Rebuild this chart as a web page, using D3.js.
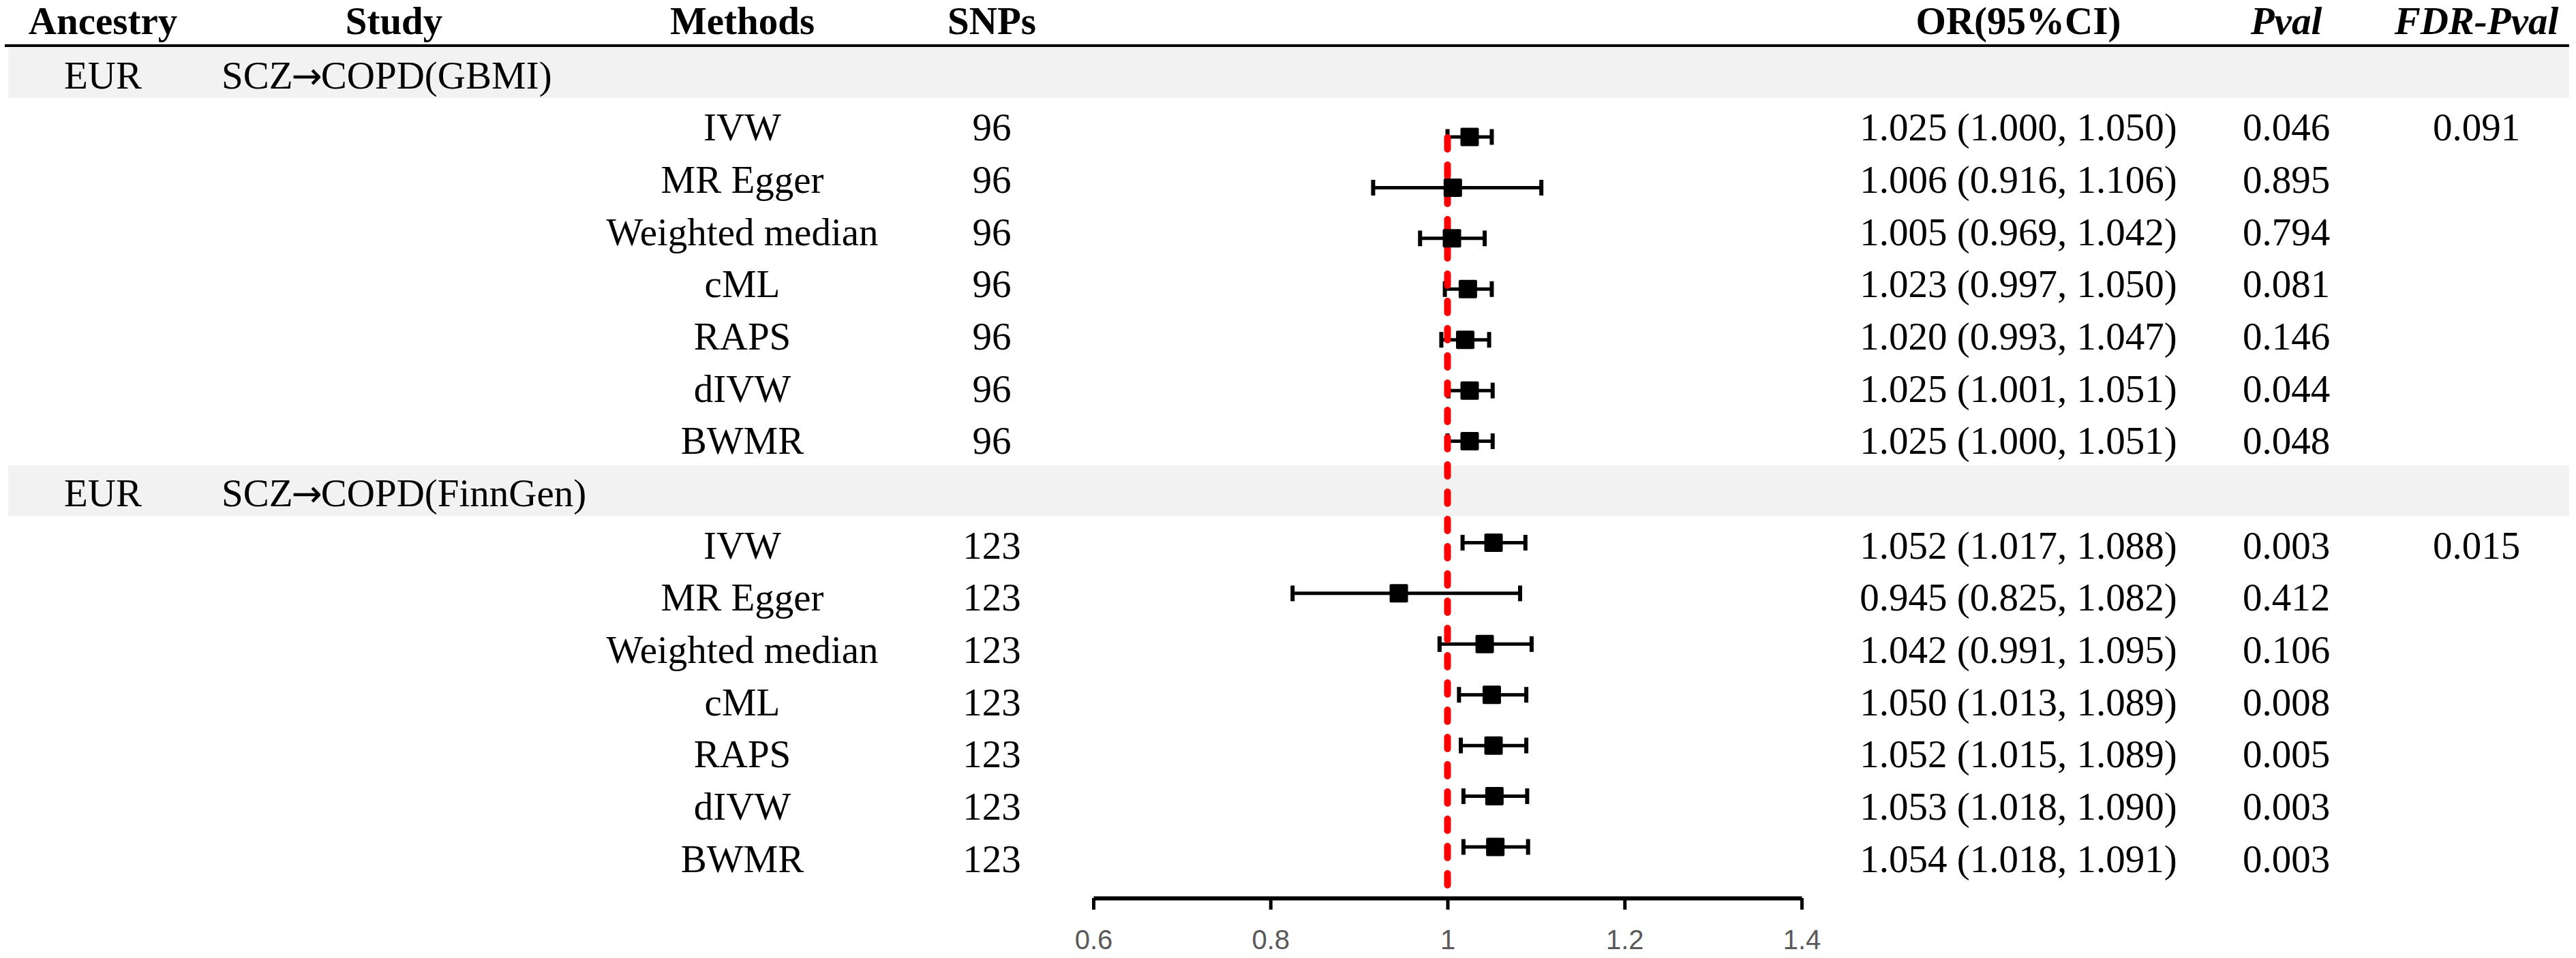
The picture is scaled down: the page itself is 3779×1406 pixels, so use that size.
<!DOCTYPE html>
<html>
<head>
<meta charset="utf-8">
<script src="https://cdn.jsdelivr.net/npm/d3@7"></script>
<style>
  body { margin: 0; background: #fff; }
  text { font-family: "Liberation Serif", "Times New Roman", serif; fill: #000; }
</style>
</head>
<body>
<svg id="forest"></svg>
<script>
// table data
var headers = ["Ancestry", "Study", "Methods", "SNPs", "OR(95%CI)", "Pval", "FDR-Pval"];
var ancestry = ["EUR", "EUR"];
var exposures = ["SCZ", "SCZ"];
var outcomes = ["COPD(GBMI)", "COPD(FinnGen)"];
var methods = ["IVW", "MR Egger", "Weighted median", "cML", "RAPS", "dIVW", "BWMR"];
var snps = [96, 123];
var fdr = [0.091, 0.015];

var orGBMI  = [1.025, 1.006, 1.005, 1.023, 1.020, 1.025, 1.025];
var lowGBMI = [1.000, 0.916, 0.969, 0.997, 0.993, 1.001, 1.000];
var upGBMI  = [1.050, 1.106, 1.042, 1.050, 1.047, 1.051, 1.051];
var pGBMI   = [0.046, 0.895, 0.794, 0.081, 0.146, 0.044, 0.048];

var orFinn  = [1.052, 0.945, 1.042, 1.050, 1.052, 1.053, 1.054];
var lowFinn = [1.017, 0.825, 0.991, 1.013, 1.015, 1.018, 1.018];
var upFinn  = [1.088, 1.082, 1.095, 1.089, 1.089, 1.090, 1.091];
var pFinn   = [0.003, 0.412, 0.106, 0.008, 0.005, 0.003, 0.003];

var tickValues = [0.6, 0.8, 1, 1.2, 1.4];

document.addEventListener("DOMContentLoaded", function() {
  drawForest();
});

function drawForest() {
  var svgWidth = 3779, svgHeight = 1406;
  var fs = 57;
  var f3 = d3.format(".3f");

  var svg = d3.select("#forest")
    .attr("width", svgWidth)
    .attr("height", svgHeight);

  // build rows: a band row for each study, then one row per method
  var orAll = [orGBMI, orFinn], lowAll = [lowGBMI, lowFinn],
      upAll = [upGBMI, upFinn], pAll = [pGBMI, pFinn];
  var rows = [];
  outcomes.forEach(function(o, g) {
    rows.push({ band: true, ancestry: ancestry[g], exp: exposures[g], out: o });
    methods.forEach(function(m, i) {
      rows.push({
        band: false, method: m, snps: snps[g],
        or: orAll[g][i], lo: lowAll[g][i], hi: upAll[g][i], p: pAll[g][i],
        fdr: i === 0 ? fdr[g] : null
      });
    });
  });
  rows.forEach(function(r, i) { r.idx = i; });

  // scales
  var x = d3.scaleLinear().domain([0.6, 1.4]).range([1604, 2643]);
  var yText = d3.scaleLinear().domain([0, rows.length - 1]).range([111, 1261]);
  var yMark = d3.scaleLinear().domain([1, rows.length - 1]).range([201, 1243]);

  var col = { ancestry: 151, studyHead: 578, study: 325, method: 1089,
              snps: 1455, or: 2961, p: 3354, fdr: 3633 };

  // gray bands
  svg.selectAll("rect.band")
    .data(rows.filter(function(r) { return r.band; }))
    .enter().append("rect")
    .attr("class", "band")
    .attr("x", 12).attr("width", 3757)
    .attr("y", function(d) { return yText(d.idx) - 41; })
    .attr("height", 74)
    .attr("fill", "#f2f2f2");

  // header
  var headX = [col.ancestry, col.studyHead, col.method, col.snps, col.or, col.p, col.fdr];
  svg.selectAll("text.head")
    .data(headers)
    .enter().append("text")
    .attr("class", "head")
    .attr("x", function(d, i) { return headX[i]; })
    .attr("y", 31)
    .attr("dy", "0.33em")
    .attr("text-anchor", "middle")
    .attr("font-size", fs)
    .attr("font-weight", "bold")
    .attr("font-style", function(d, i) { return i >= 5 ? "italic" : "normal"; })
    .text(function(d) { return d; });

  svg.append("line")
    .attr("x1", 7).attr("x2", 3769)
    .attr("y1", 67).attr("y2", 67)
    .attr("stroke", "#000").attr("stroke-width", 4);

  // band labels
  var bands = svg.selectAll("g.bandlab")
    .data(rows.filter(function(r) { return r.band; }))
    .enter().append("g")
    .attr("class", "bandlab");
  bands.append("text")
    .attr("x", col.ancestry).attr("text-anchor", "middle")
    .attr("y", function(d) { return yText(d.idx); })
    .attr("dy", "0.33em").attr("font-size", fs)
    .text(function(d) { return d.ancestry; });
  var study = bands.append("text")
    .attr("x", col.study).attr("text-anchor", "start")
    .attr("y", function(d) { return yText(d.idx); })
    .attr("dy", "0.33em").attr("font-size", fs);
  study.append("tspan").text(function(d) { return d.exp; });
  study.append("tspan")
    .style("font-family", "'DejaVu Sans', sans-serif")
    .attr("font-size", 54)
    .attr("dx", -2)
    .text("\u2192");
  study.append("tspan").attr("dx", -2).text(function(d) { return d.out; });

  // method rows text
  var data = rows.filter(function(r) { return !r.band; });
  var cells = [
    { x: col.method, t: function(d) { return d.method; } },
    { x: col.snps,   t: function(d) { return d.snps; } },
    { x: col.or,     t: function(d) { return f3(d.or) + " (" + f3(d.lo) + ", " + f3(d.hi) + ")"; } },
    { x: col.p,      t: function(d) { return f3(d.p); } },
    { x: col.fdr,    t: function(d) { return d.fdr === null ? "" : f3(d.fdr); } }
  ];
  cells.forEach(function(c) {
    svg.append("g").selectAll("text")
      .data(data)
      .enter().append("text")
      .attr("x", c.x)
      .attr("y", function(d) { return yText(d.idx); })
      .attr("dy", "0.33em")
      .attr("text-anchor", "middle")
      .attr("font-size", fs)
      .text(c.t);
  });

  // CI lines + caps
  var ci = svg.append("g").selectAll("g")
    .data(data)
    .enter().append("g");
  ci.append("line")
    .attr("x1", function(d) { return x(d.lo); })
    .attr("x2", function(d) { return x(d.hi); })
    .attr("y1", function(d) { return yMark(d.idx); })
    .attr("y2", function(d) { return yMark(d.idx); })
    .attr("stroke", "#000").attr("stroke-width", 5);
  ["lo", "hi"].forEach(function(k) {
    ci.append("line")
      .attr("x1", function(d) { return x(d[k]); })
      .attr("x2", function(d) { return x(d[k]); })
      .attr("y1", function(d) { return yMark(d.idx) - 11.5; })
      .attr("y2", function(d) { return yMark(d.idx) + 11.5; })
      .attr("stroke", "#000").attr("stroke-width", 6);
  });

  // axis
  var axis = svg.append("g")
    .attr("transform", "translate(0,1318)")
    .call(d3.axisBottom(x)
      .tickValues(tickValues)
      .tickSizeInner(17)
      .tickSizeOuter(0)
      .tickPadding(30)
      .tickFormat(d3.format("")));
  axis.select(".domain").attr("stroke", "#000").attr("stroke-width", 6);
  axis.selectAll(".tick line").attr("stroke", "#000").attr("stroke-width", 5);
  axis.selectAll(".tick text")
    .attr("font-size", 40)
    .style("font-family", "'Liberation Sans', Arial, sans-serif")
    .style("fill", "#595959");

  // reference line at OR = 1
  svg.append("line")
    .attr("x1", x(1)).attr("x2", x(1))
    .attr("y1", 202).attr("y2", 1312)
    .attr("stroke", "#ff0000")
    .attr("stroke-width", 10)
    .attr("stroke-linecap", "round")
    .attr("stroke-dasharray", "17,23");

  // point estimates
  svg.append("g").selectAll("rect")
    .data(data)
    .enter().append("rect")
    .attr("x", function(d) { return x(d.or) - 13.5; })
    .attr("y", function(d) { return yMark(d.idx) - 13.5; })
    .attr("width", 27).attr("height", 27)
    .attr("rx", 2)
    .attr("fill", "#000");
}
</script>
</body>
</html>
